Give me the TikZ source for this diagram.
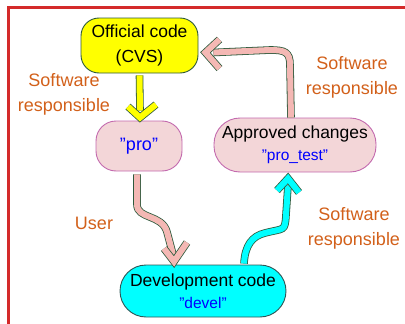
\documentclass[tikz,border=0pt]{standalone}
\usepackage{fontspec}
\setmainfont{Liberation Sans}
\usetikzlibrary{calc}
\definecolor{frame}{HTML}{D42A2A}
\definecolor{dkgreen}{HTML}{2E5A3C}
\definecolor{pinkfill}{HTML}{F3D6D8}
\definecolor{pinkedge}{HTML}{C36AAE}
\definecolor{orangetxt}{HTML}{D2601A}
\definecolor{arrowpink}{HTML}{F4B8B4}
\definecolor{txtblue}{HTML}{0000FF}
\definecolor{cyanedge}{HTML}{2F5555}
\definecolor{cyanfill}{HTML}{00FFFF}
\definecolor{yellowfill}{HTML}{FFFF00}
\begin{document}
\begin{tikzpicture}[x=1pt,y=-1pt,
  boxr/.style={rounded corners=#1, line width=0.9pt, align=center, inner sep=0pt,
    font=\fontsize{17.5}{25}\selectfont},
  lbl/.style={text=orangetxt, align=center, font=\fontsize{18}{25}\selectfont},
  fshaft/.style={draw=dkgreen, line width=0.8pt, double=#1, double distance=6pt},
  fhead/.style={fshaft=#1, line join=miter},
  blu/.style={text=txtblue}]
\useasboundingbox (0,0) rectangle (405,324);
\draw[frame, line width=2.5pt] (8.5,330) -- (8.5,7.5) -- (410,7.5);

\node[boxr=18pt, draw=dkgreen, fill=yellowfill, minimum width=117pt, minimum height=55pt]
  (off) at (139.5,45.5) {Official code\\(CVS)};
\node[boxr=20pt, draw=pinkedge, fill=pinkfill, minimum width=86pt, minimum height=50pt,
  font=\fontsize{18}{24}\selectfont]
  (pro) at (139,146) {\textcolor{txtblue}{"pro"}};
\node[boxr=26pt, draw=pinkedge, fill=pinkfill, minimum width=162pt, minimum height=54pt]
  (app) at (295,145) {Approved changes\\[-3pt]{\fontsize{15.5}{19}\selectfont\textcolor{txtblue}{"pro\_test"}}};
\node[boxr=26pt, draw=cyanedge, fill=cyanfill, minimum width=166pt, minimum height=52pt]
  (dev) at (203,291) {Development code\\[-3pt]{\fontsize{15.5}{19}\selectfont\textcolor{txtblue}{"devel"}}};

\node[lbl] (l1) at (64,94) {Software\\responsible};
\node[lbl] (l2) at (352,77) {Software\\responsible};
\node[lbl] (l3) at (354,228) {Software\\responsible};
\node[lbl] (l4) at (94,223) {User};

% yellow arrow
\coordinate (y0) at ($(off.south)+(0,2)$);
\coordinate (y1) at ($(pro.north)+(1,-3)$);
\draw[fshaft=yellowfill] (y0) -- ($(y1)+(0,-7)$);
\draw[fhead=yellowfill] ($(y1)+(-12,-11)$) -- (y1) -- ($(y1)+(16,-13)$);

% user arrow
\coordinate (u0) at ($(pro.south)+(-2,3)$);
\coordinate (u1) at ($(dev.north)+(-29,-3)$);
\draw[fshaft=arrowpink] (u0) -- ++(0,30) .. controls +(0,15) and (162,214) .. (167,232) -- ($(u1)+(-1,-7)$);
\draw[fhead=arrowpink] ($(u1)+(-10,-13)$) -- (u1) -- ($(u1)+(13,-19)$);

% cyan arrow
\coordinate (c0) at ($(dev.north)+(41,-1)$);
\coordinate (c1) at ($(app.south)+(-7,6)$);
\draw[fshaft=cyanfill] (c0) .. controls +(1,-18) and (252,236) .. (265,233) .. controls (284,228) and (285,232) .. (286,215) -- ($(c1)+(0,7)$);
\draw[fhead=cyanfill] ($(c1)+(-11,12)$) -- (c1) -- ($(c1)+(11,14)$);

% top pink arrow
\coordinate (p0) at ($(app.north)+(-4,0)$);
\coordinate (p1) at ($(off.east)+(7,7)$);
\draw[fshaft=arrowpink] (p0) -- (290,65) .. controls (290,52) and (285,50) .. (270,50) -- ($(p1)+(8,0)$);
\draw[fhead=arrowpink] ($(p1)+(14,-13)$) -- (p1) -- ($(p1)+(14,16)$);
\end{tikzpicture}
\end{document}
